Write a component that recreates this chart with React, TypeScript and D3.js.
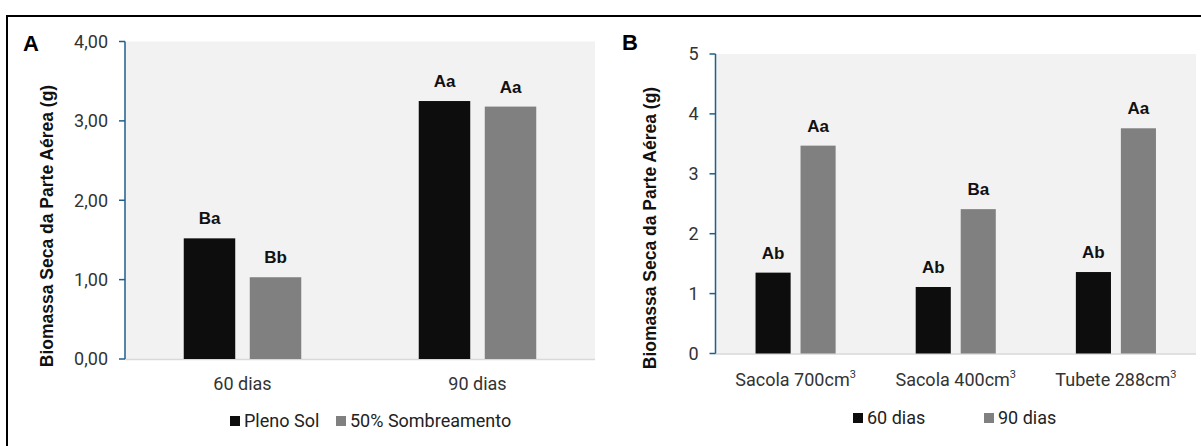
import React from "react";
import * as d3 from "d3";

// Panel A: shoot dry biomass by age and light condition
const ageLabels = ["60 dias", "90 dias"];
const lightSeries = ["Pleno Sol", "50% Sombreamento"];
const plenoSol = [1.52, 3.25];
const sombreamento = [1.03, 3.18];
const lettersPlenoSol = ["Ba", "Aa"];
const lettersSombreamento = ["Bb", "Aa"];
const ticksA = [0, 1, 2, 3, 4];

// Panel B: shoot dry biomass by container and age
const containers = ["Sacola 700", "Sacola 400", "Tubete 288"];
const ageSeries = ["60 dias", "90 dias"];
const dias60 = [1.35, 1.11, 1.36];
const dias90 = [3.47, 2.41, 3.76];
const letters60 = ["Ab", "Ab", "Ab"];
const letters90 = ["Aa", "Ba", "Aa"];
const ticksB = [0, 1, 2, 3, 4, 5];

const W = 1201;
const H = 446;
const COLORS = ["#0d0d0d", "#808080"];
const AXIS = "#1f5f8b";
const TICK_FONT = "Roboto, 'Liberation Sans', sans-serif";
const BOLD_FONT = "'Liberation Sans', Arial, sans-serif";
const TEXT_SIZE = 18;

type PanelProps = {
  left: number;
  right: number;
  top: number;
  bottom: number;
  yMax: number;
  ticks: number[];
  fmt: (v: number) => string;
  cats: string[];
  series: number[][];
  letters: string[][];
  catLabel: (c: string, x: number) => React.ReactNode;
  titleX: number;
  titleY: number;
};

function Panel(p: PanelProps) {
  const y = d3.scaleLinear().domain([0, p.yMax]).range([p.bottom, p.top]);
  const x0 = d3
    .scaleBand<string>()
    .domain(p.cats)
    .range([p.left, p.right])
    .paddingInner(0.5)
    .paddingOuter(0.25);
  const x1 = d3
    .scaleBand<number>()
    .domain(p.series.map((_, i) => i))
    .range([0, x0.bandwidth()])
    .paddingInner(0.22);

  return (
    <g>
      <rect x={p.left} y={p.top} width={p.right - p.left} height={p.bottom - p.top} fill="#f2f2f2" />
      <line x1={p.left} x2={p.right} y1={p.bottom + 0.5} y2={p.bottom + 0.5} stroke="#d9d9d9" strokeWidth={1.5} />
      {p.cats.map((c, ci) =>
        p.series.map((s, si) => {
          const bx = (x0(c) as number) + (x1(si) as number);
          const bw = x1.bandwidth();
          return (
            <g key={`${ci}-${si}`}>
              <rect x={bx} y={y(s[ci])} width={bw} height={p.bottom - y(s[ci])} fill={COLORS[si]} />
              <text
                x={bx + bw / 2}
                y={y(s[ci]) - 14}
                textAnchor="middle"
                fontFamily={BOLD_FONT}
                fontWeight="bold"
                fontSize={17}
                fill="#111"
              >
                {p.letters[si][ci]}
              </text>
            </g>
          );
        })
      )}
      {/* y axis */}
      <line x1={p.left} x2={p.left} y1={p.top} y2={p.bottom} stroke={AXIS} strokeWidth={1.5} />
      {p.ticks.map((t) => (
        <g key={t}>
          <line x1={p.left - 6} x2={p.left} y1={y(t)} y2={y(t)} stroke={AXIS} strokeWidth={1.5} />
          <text
            x={p.left - 17}
            y={y(t)}
            dy="0.35em"
            textAnchor="end"
            fontFamily={TICK_FONT}
            fontSize={TEXT_SIZE}
            fill="#333"
          >
            {p.fmt(t)}
          </text>
        </g>
      ))}
      {p.cats.map((c) => (
        <g key={c}>{p.catLabel(c, (x0(c) as number) + x0.bandwidth() / 2)}</g>
      ))}
      <text
        transform={`translate(${p.titleX},${p.titleY}) rotate(-90)`}
        textAnchor="middle"
        dy="0.35em"
        fontFamily={BOLD_FONT}
        fontWeight="bold"
        fontSize={17.5}
        fill="#111"
      >
        Biomassa Seca da Parte Aérea (g)
      </text>
    </g>
  );
}

function LegendItem({ x, y, color, label }: { x: number; y: number; color: string; label: string }) {
  return (
    <g>
      <rect x={x} y={y - 5} width={10} height={10} fill={color} />
      <text x={x + 14} y={y} dy="0.35em" fontFamily={TICK_FONT} fontSize={TEXT_SIZE} fill="#222">
        {label}
      </text>
    </g>
  );
}

export default function App() {
  const commaFmt = (v: number) => d3.format(".2f")(v).replace(".", ",");
  return (
    <svg
      width={W}
      height={H}
      style={{ position: "absolute", left: 0, top: 0, background: "#fff" }}
    >
      {/* frame */}
      <path d={`M7,${H + 5} V16 H${W + 5}`} fill="none" stroke="#000" strokeWidth={2} />

      <text x={23} y={51} fontFamily={BOLD_FONT} fontWeight="bold" fontSize={22} fill="#000">
        A
      </text>
      <text x={622} y={50} fontFamily={BOLD_FONT} fontWeight="bold" fontSize={22} fill="#000">
        B
      </text>

      <Panel
        left={125}
        right={595}
        top={41.5}
        bottom={359}
        yMax={4}
        ticks={ticksA}
        fmt={commaFmt}
        cats={ageLabels}
        series={[plenoSol, sombreamento]}
        letters={[lettersPlenoSol, lettersSombreamento]}
        catLabel={(c, x) => (
          <text x={x} y={384} dy="0.35em" textAnchor="middle" fontFamily={TICK_FONT} fontSize={TEXT_SIZE} fill="#333">
            {c}
          </text>
        )}
        titleX={47}
        titleY={226}
      />

      <Panel
        left={715.5}
        right={1196}
        top={54}
        bottom={353.5}
        yMax={5}
        ticks={ticksB}
        fmt={(v) => String(v)}
        cats={containers}
        series={[dias60, dias90]}
        letters={[letters60, letters90]}
        catLabel={(c, x) => (
          <text x={x} y={380} dy="0.35em" textAnchor="middle" fontFamily={TICK_FONT} fontSize={TEXT_SIZE} fill="#333">
            {c}cm
            <tspan dy={-8} fontSize={11}>
              3
            </tspan>
          </text>
        )}
        titleX={650}
        titleY={228}
      />

      {/* legends */}
      <LegendItem x={230} y={421} color={COLORS[0]} label={lightSeries[0]} />
      <LegendItem x={336} y={421} color={COLORS[1]} label={lightSeries[1]} />
      <LegendItem x={853} y={418} color={COLORS[0]} label={ageSeries[0]} />
      <LegendItem x={984} y={418} color={COLORS[1]} label={ageSeries[1]} />
    </svg>
  );
}
